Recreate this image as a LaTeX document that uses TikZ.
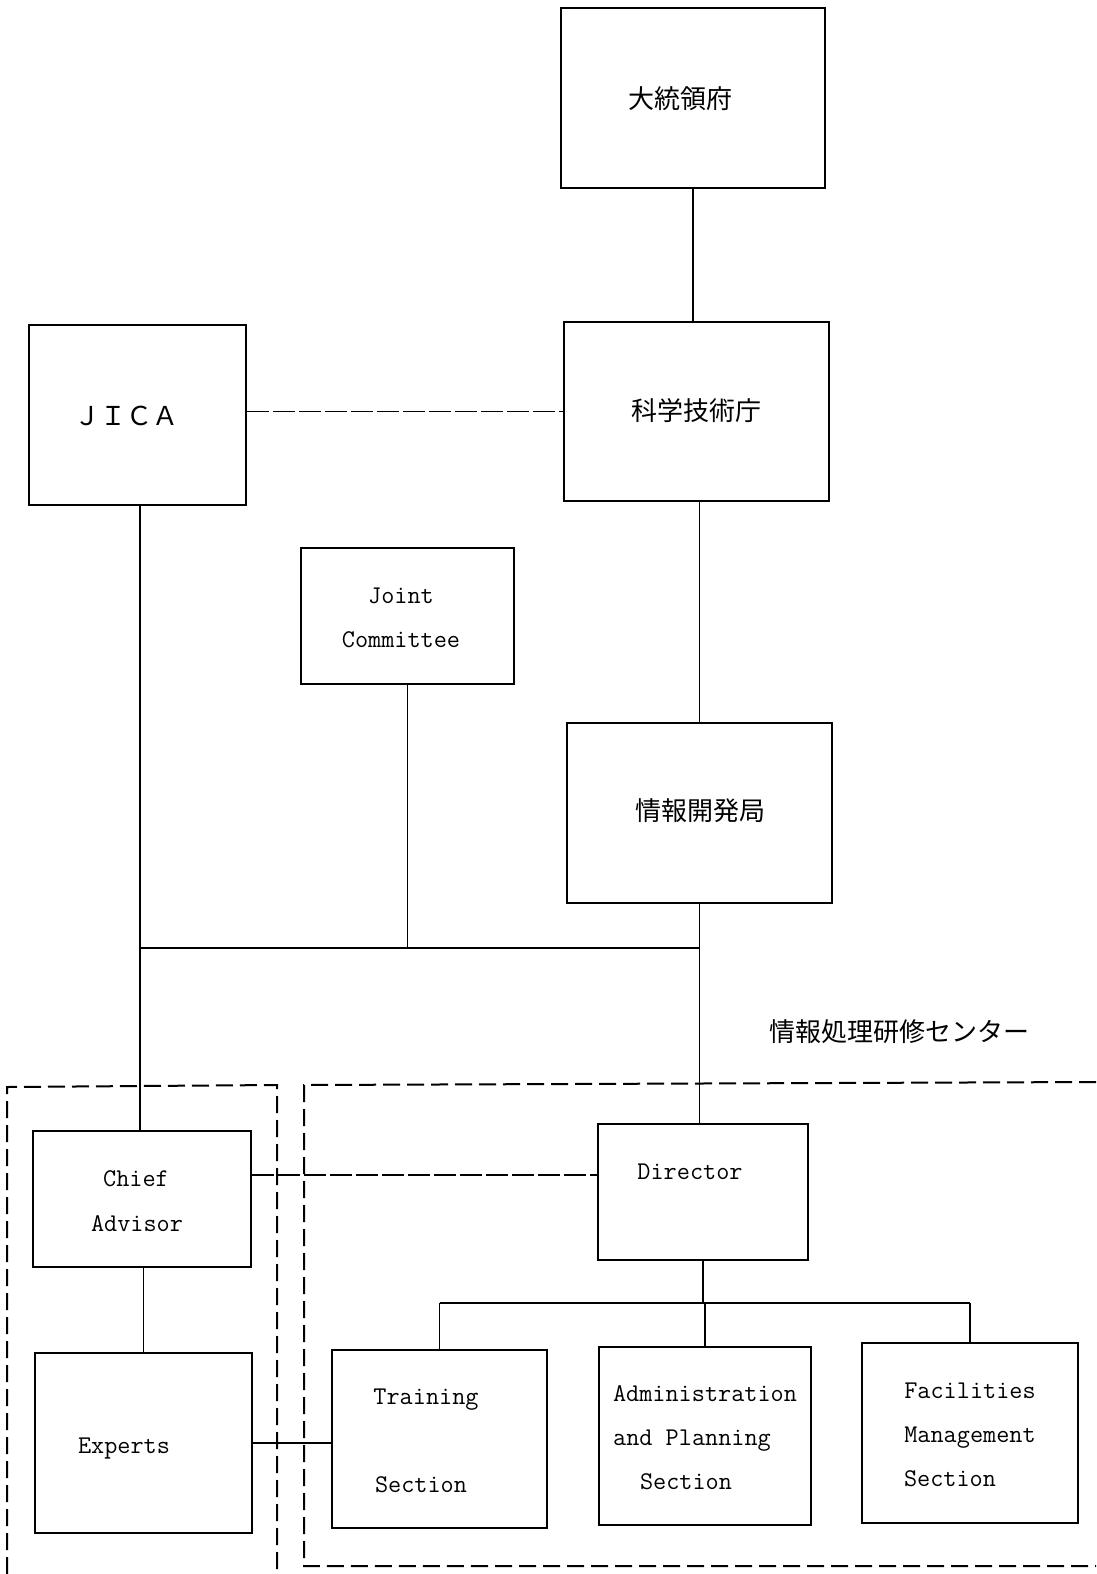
\documentclass[tikz,border=0pt]{standalone}
\usepackage{fontspec}
\newfontfamily\cjk{Noto Sans CJK JP}
\begin{document}
\begin{tikzpicture}[x=1pt,y=-1pt,
  box/.style={draw,line width=1.6pt,inner sep=0pt},
  conn/.style={line width=1.8pt},
  dashconn/.style={line width=1.2pt,dash pattern=on 22pt off 4pt},
  region/.style={line width=2pt,dash pattern=on 17pt off 7pt},
  lbl/.style={font=\ttfamily\fontsize{25.5}{30}\selectfont,inner sep=0pt,anchor=base},
  jp/.style={font=\cjk\fontsize{26}{30}\selectfont,inner sep=0pt}]
\useasboundingbox (0,0) rectangle (1096,1574);
\fill[white] (0,0) rectangle (1096,1574);

% boxes
\node[box,minimum width=264pt,minimum height=180pt] (pres) at (693,98) {};
\node[box,minimum width=265pt,minimum height=179pt] (sci) at (696.5,411.5) {};
\node[box,minimum width=217pt,minimum height=180pt] (jica) at (137.5,415) {};
\node[box,minimum width=213pt,minimum height=136pt] (jc) at (407.5,616) {};
\node[box,minimum width=265pt,minimum height=180pt] (info) at (699.5,813) {};
\node[box,minimum width=218pt,minimum height=136pt] (chief) at (142,1199) {};
\node[box,minimum width=217pt,minimum height=180pt] (exp) at (143.5,1443) {};
\node[box,minimum width=210pt,minimum height=136pt] (dir) at (703,1192) {};
\node[box,minimum width=215pt,minimum height=178pt] (train) at (439.5,1439) {};
\node[box,minimum width=212pt,minimum height=178pt] (admin) at (705,1436) {};
\node[box,minimum width=216pt,minimum height=180pt] (fac) at (970,1433) {};

% texts
\node[jp] (presT) at (680,99) {大統領府};
\node[jp] (sciT) at (696,411) {科学技術庁};
\node[jp] (infoT) at (700,811) {情報開発局};
\node[jp] (jicaT) at (126,416) {ＪＩＣＡ};
\node[jp] (centerT) at (899,1032) {情報処理研修センター};
\node[lbl] (jcT1) at (401,603) {Joint};
\node[lbl] (jcT2) at (401,647) {Committee};
\node[lbl] (chiefT1) at (136,1186) {Chief};
\node[lbl] (chiefT2) at (137,1231) {Advisor};
\node[lbl] (expT) at (124,1453) {Experts};
\node[lbl] (dirT) at (690,1179) {Director};
\node[lbl] (trainT1) at (426,1404) {Training};
\node[lbl] (trainT2) at (421,1492) {Section};
\node[lbl] (adminT1) at (705,1401) {Administration};
\node[lbl] (adminT2) at (692,1445) {and Planning};
\node[lbl] (adminT3) at (686,1489) {Section};
\node[lbl] (facT1) at (970,1398) {Facilities};
\node[lbl] (facT2) at (970,1442) {Management};
\node[lbl] (facT3) at (950,1486) {Section};

% junction coordinates
\coordinate (jx) at (140,948);
\coordinate (br) at (0,1303);
\coordinate (cdy) at (0,1175);

% solid connectors
\draw[conn] (pres.south) -- (pres.south |- sci.north);
\draw[conn] (sci.south -| info.south) -- (info.north);
\draw[conn] (jica.south -| jx) -- (jx) -- (chief.north -| jx);
\draw[conn] (jc.south) -- (jc.south |- jx);
\draw[conn] (jx) -- (info.south |- jx);
\draw[conn] (info.south) -- (info.south |- dir.north);
\draw[conn] (chief.south -| exp.north) -- (exp.north);
\draw[conn] (dir.south) -- (dir.south |- br);
\draw[conn] (train.north |- br) -- (fac.north |- br);
\draw[conn] (train.north |- br) -- (train.north);
\draw[conn] (admin.north |- br) -- (admin.north);
\draw[conn] (fac.north |- br) -- (fac.north);
\draw[line width=1.2pt] (exp.east) -- (exp.east -| train.west);

% dashed connectors
\draw[dashconn] (jica.east |- sci.east) -- (sci.west);
\draw[dashconn] (chief.east |- cdy) -- (dir.west |- cdy);

% regions
\draw[region] (7,1574) -- (7,1087) -- (277,1085) -- (277,1574);
\draw[region] (1096,1082) -- (304,1085) -- (304,1566) -- (1096,1566);
\end{tikzpicture}
\end{document}
